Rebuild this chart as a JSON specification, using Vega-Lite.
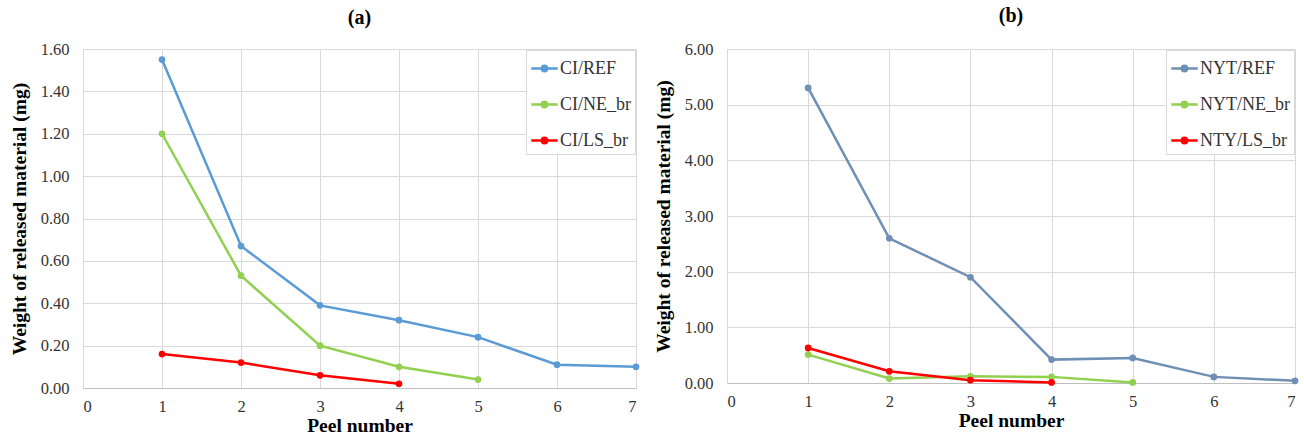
{
  "$schema": "https://vega.github.io/schema/vega-lite/v6.json",
  "padding": {"left": 8, "top": 5, "right": 0, "bottom": 0},
  "background": "white",
  "datasets": {
    "a": [
      {"series": "CI/REF", "peel": 1, "value": 1.55},
      {"series": "CI/REF", "peel": 2, "value": 0.67},
      {"series": "CI/REF", "peel": 3, "value": 0.39},
      {"series": "CI/REF", "peel": 4, "value": 0.32},
      {"series": "CI/REF", "peel": 5, "value": 0.24},
      {"series": "CI/REF", "peel": 6, "value": 0.11},
      {"series": "CI/REF", "peel": 7, "value": 0.10},
      {"series": "CI/NE_br", "peel": 1, "value": 1.20},
      {"series": "CI/NE_br", "peel": 2, "value": 0.53},
      {"series": "CI/NE_br", "peel": 3, "value": 0.20},
      {"series": "CI/NE_br", "peel": 4, "value": 0.10},
      {"series": "CI/NE_br", "peel": 5, "value": 0.04},
      {"series": "CI/LS_br", "peel": 1, "value": 0.16},
      {"series": "CI/LS_br", "peel": 2, "value": 0.12},
      {"series": "CI/LS_br", "peel": 3, "value": 0.06},
      {"series": "CI/LS_br", "peel": 4, "value": 0.02}
    ],
    "b": [
      {"series": "NYT/REF", "peel": 1, "value": 5.30},
      {"series": "NYT/REF", "peel": 2, "value": 2.60},
      {"series": "NYT/REF", "peel": 3, "value": 1.90},
      {"series": "NYT/REF", "peel": 4, "value": 0.42},
      {"series": "NYT/REF", "peel": 5, "value": 0.45},
      {"series": "NYT/REF", "peel": 6, "value": 0.11},
      {"series": "NYT/REF", "peel": 7, "value": 0.04},
      {"series": "NYT/NE_br", "peel": 1, "value": 0.51},
      {"series": "NYT/NE_br", "peel": 2, "value": 0.08},
      {"series": "NYT/NE_br", "peel": 3, "value": 0.12},
      {"series": "NYT/NE_br", "peel": 4, "value": 0.11},
      {"series": "NYT/NE_br", "peel": 5, "value": 0.01},
      {"series": "NTY/LS_br", "peel": 1, "value": 0.63},
      {"series": "NTY/LS_br", "peel": 2, "value": 0.21},
      {"series": "NTY/LS_br", "peel": 3, "value": 0.05},
      {"series": "NTY/LS_br", "peel": 4, "value": 0.01}
    ]
  },
  "config": {
    "font": "Liberation Serif",
    "view": {"stroke": "#D9D9D9"},
    "axis": {
      "labelFont": "Liberation Serif",
      "labelFontSize": 16.5,
      "labelColor": "#333333",
      "titleFont": "Liberation Serif",
      "titleFontSize": 19.5,
      "titleFontWeight": "bold",
      "titleColor": "#000000",
      "gridColor": "#D9D9D9",
      "domainColor": "#BFBFBF",
      "ticks": false
    },
    "axisY": {"labelPadding": 14, "titlePadding": 8, "minExtent": 46, "maxExtent": 46, "domain": false},
    "axisX": {"labelPadding": 10, "titlePadding": 2},
    "title": {"font": "Liberation Serif", "fontSize": 20, "fontWeight": "bold", "anchor": "middle", "color": "#000000"},
    "legend": {
      "orient": "top-right",
      "offset": 1,
      "title": null,
      "fillColor": "white",
      "strokeColor": "#D9D9D9",
      "padding": 4,
      "labelFont": "Liberation Serif",
      "labelFontSize": 18,
      "labelColor": "#333333",
      "symbolType": "M-1,0L1,0M-0.2,0A0.2,0.2 0 1,0 0.2,0A0.2,0.2 0 1,0 -0.2,0",
      "symbolSize": 700,
      "symbolStrokeWidth": 2.5,
      "rowPadding": 12,
      "labelOffset": 1
    },
    "concat": {"spacing": 10}
  },
  "resolve": {"scale": {"color": "independent"}},
  "hconcat": [
    {
      "width": 553,
      "height": 339,
      "title": {"text": "(a)", "offset": 13},
      "data": {"name": "a"},
      "encoding": {
        "x": {"field": "peel", "type": "quantitative", "scale": {"domain": [0, 7]},
          "axis": {"values": [0, 1, 2, 3, 4, 5, 6, 7], "title": "Peel number", "grid": true}},
        "y": {"field": "value", "type": "quantitative", "scale": {"domain": [0, 1.6]},
          "axis": {"values": [0, 0.2, 0.4, 0.6, 0.8, 1.0, 1.2, 1.4, 1.6], "format": ".2f", "title": "Weight of released material (mg)"}},
        "color": {"field": "series", "type": "nominal",
          "scale": {"domain": ["CI/REF", "CI/NE_br", "CI/LS_br"], "range": ["#5B9BD5", "#92D050", "#FF0000"]}}
      },
      "layer": [
        {"mark": {"type": "line", "strokeWidth": 2.5}},
        {"mark": {"type": "point", "filled": true, "size": 45, "opacity": 1}}
      ]
    },
    {
      "width": 568,
      "height": 334,
      "title": {"text": "(b)", "offset": 15},
      "data": {"name": "b"},
      "encoding": {
        "x": {"field": "peel", "type": "quantitative", "scale": {"domain": [0, 7]},
          "axis": {"values": [0, 1, 2, 3, 4, 5, 6, 7], "title": "Peel number", "grid": true}},
        "y": {"field": "value", "type": "quantitative", "scale": {"domain": [0, 6]},
          "axis": {"values": [0, 1, 2, 3, 4, 5, 6], "format": ".2f", "title": "Weight of released material (mg)"}},
        "color": {"field": "series", "type": "nominal",
          "scale": {"domain": ["NYT/REF", "NYT/NE_br", "NTY/LS_br"], "range": ["#6F8FB5", "#92D050", "#FF0000"]}}
      },
      "layer": [
        {"mark": {"type": "line", "strokeWidth": 2.5}},
        {"mark": {"type": "point", "filled": true, "size": 45, "opacity": 1}}
      ]
    }
  ]
}
